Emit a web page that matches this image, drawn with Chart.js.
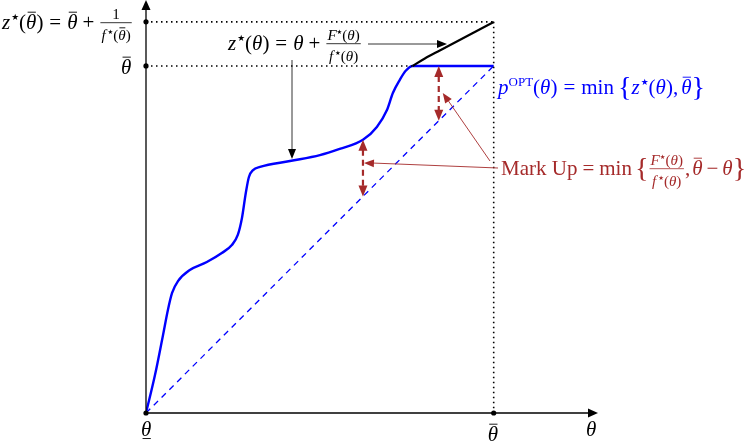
<!DOCTYPE html>
<html>
<head>
<meta charset="utf-8">
<script src="https://cdn.jsdelivr.net/npm/chart.js@4.4.1/dist/chart.umd.min.js"></script>
<style>
  html, body { margin: 0; padding: 0; background: #fff; }
  #wrap { width: 747px; height: 443px; }
</style>
</head>
<body>
<div id="wrap"><canvas id="chart"></canvas></div>
<script>
// theta axis in units where theta_bar = 1
const thetaBar = 1;
const zStarBar = 1.127;

// p^OPT(theta) curve
const blueX = [0, 0.026, 0.049, 0.063, 0.075, 0.092, 0.126, 0.175, 0.218, 0.247, 0.264, 0.276, 0.287, 0.296, 0.308, 0.328, 0.414, 0.5, 0.557, 0.624, 0.664, 0.693, 0.710, 0.730, 0.747, 0.767, 1.0];
const blueY = [0, 0.110, 0.225, 0.297, 0.346, 0.380, 0.412, 0.435, 0.461, 0.484, 0.513, 0.562, 0.634, 0.680, 0.700, 0.709, 0.726, 0.743, 0.761, 0.787, 0.824, 0.873, 0.922, 0.960, 0.986, 1.0, 1.0];
// z*(theta) beyond the cap
const blackX = [0.767, 0.802, 0.845, 1.0];
const blackY = [1.0, 1.0216, 1.0447, 1.1268];
// mark-up arrows at these thetas
const markX = [0.624, 0.842];
const markTop = [0.787, 1.0];

const toPts = (xs, ys) => xs.map((x, i) => ({ x, y: ys[i] }));

const serif = '"Liberation Serif", "DejaVu Serif", serif';

function mathRun(ctx, items, x, y, size, color, draw) {
  let cx = x;
  items.forEach(it => {
    if (it.sp) { cx += it.sp; return; }
    if (it.frac) {
      const s = size * 0.72;
      const wn = mathRun(ctx, it.frac[0], 0, 0, s, color, false);
      const wd = mathRun(ctx, it.frac[1], 0, 0, s, color, false);
      const w = Math.max(wn, wd) + 4;
      if (draw) {
        mathRun(ctx, it.frac[0], cx + (w - wn) / 2, y - size * 0.47, s, color, true);
        mathRun(ctx, it.frac[1], cx + (w - wd) / 2, y + size * 0.52, s, color, true);
        ctx.strokeStyle = color; ctx.lineWidth = 0.8;
        ctx.beginPath(); ctx.moveTo(cx + 1, y - size * 0.3); ctx.lineTo(cx + w - 1, y - size * 0.3); ctx.stroke();
      }
      cx += w;
      return;
    }
    let s = size, dy = 0;
    if (it.sup) { s = size * 0.62; dy = -size * 0.4; }
    if (it.star) { s = size * 0.42; dy = -size * 0.42; }
    if (it.big) { s = size * 1.35; dy = size * 0.1; }
    const fam = it.star ? '"DejaVu Sans", sans-serif' : serif;
    ctx.font = (it.i ? 'italic ' : '') + s + 'px ' + fam;
    const w = ctx.measureText(it.t).width;
    if (draw) {
      ctx.fillStyle = color;
      ctx.fillText(it.t, cx, y + dy);
      if (it.bar || it.under) {
        ctx.strokeStyle = color; ctx.lineWidth = 0.9;
        const by = it.bar ? y + dy - s * 0.8 : y + dy + s * 0.12;
        ctx.beginPath(); ctx.moveTo(cx + w * 0.15, by); ctx.lineTo(cx + w * 0.95, by); ctx.stroke();
      }
    }
    cx += w;
  });
  return cx - x;
}

function arrowHead(ctx, x0, y0, x1, y1, len, wid, color) {
  const a = Math.atan2(y1 - y0, x1 - x0);
  ctx.fillStyle = color;
  ctx.beginPath();
  ctx.moveTo(x1, y1);
  ctx.lineTo(x1 - len * Math.cos(a) + wid * Math.sin(a), y1 - len * Math.sin(a) - wid * Math.cos(a));
  ctx.lineTo(x1 - len * Math.cos(a) - wid * Math.sin(a), y1 - len * Math.sin(a) + wid * Math.cos(a));
  ctx.closePath();
  ctx.fill();
}

function line(ctx, x0, y0, x1, y1, color, lw, dash) {
  ctx.strokeStyle = color; ctx.lineWidth = lw;
  ctx.setLineDash(dash || []);
  ctx.beginPath(); ctx.moveTo(x0, y0); ctx.lineTo(x1, y1); ctx.stroke();
  ctx.setLineDash([]);
}

const th = { t: 'θ', i: true };
const thb = { t: 'θ', i: true, bar: true };
const star = { t: '★', star: true };
const zs = [{ t: 'z', i: true }, { sp: 1 }, star];
const fs = [{ t: 'f', i: true }, { sp: 2 }, star];
const Fs = [{ t: 'F', i: true }, star];
const par = (v) => [{ t: '(' }, v, { t: ')' }];

const overlay = {
  id: 'overlay',
  afterDatasetsDraw(chart) {
    const ctx = chart.ctx;
    const xs = chart.scales.x, ys = chart.scales.y;
    const px = v => xs.getPixelForValue(v), py = v => ys.getPixelForValue(v);
    const x0 = px(0), y0 = py(0), xb = px(thetaBar), yb = py(thetaBar), yz = py(zStarBar);
    ctx.save();
    // axes
    line(ctx, x0, y0, xs.right - 8, y0, '#000', 1.3);
    arrowHead(ctx, x0, y0, xs.right, y0, 10, 4.5, '#000');
    line(ctx, x0, y0, x0, ys.top + 8, '#000', 1.3);
    arrowHead(ctx, x0, y0, x0, ys.top, 10, 4.5, '#000');
    // dots
    [[x0, y0], [xb, y0], [x0, yb], [x0, yz]].forEach(([a, b]) => {
      ctx.fillStyle = '#000'; ctx.beginPath(); ctx.arc(a, b, 2.6, 0, Math.PI * 2); ctx.fill();
    });
    // mark-up arrows
    const red = '#a52a2a';
    markX.forEach((m, i) => {
      const x = px(m), yt = py(markTop[i]), yd = py(m);
      line(ctx, x, yt + 10, x, yd - 10, red, 2.2, [6, 4]);
      arrowHead(ctx, x, yd, x, yt, 11, 4.5, red);
      arrowHead(ctx, x, yt, x, yd, 11, 4.5, red);
    });
    // pointers from the mark-up label
    const lx = 498, lyA = 168, lyB = 161;
    const tA = [px(markX[0]) + 1, 163], tB = [px(markX[1]) + 4, 93];
    line(ctx, lx, lyA, tA[0] + 8, tA[1], red, 0.9);
    arrowHead(ctx, lx, lyA, tA[0], tA[1], 10, 4, red);
    line(ctx, lx - 8, lyB, tB[0] + 5, tB[1] + 7, red, 0.9);
    arrowHead(ctx, lx - 8, lyB, tB[0], tB[1], 10, 4, red);
    // z* arrows
    line(ctx, 368, 44, 438, 44, '#000', 0.8);
    arrowHead(ctx, 368, 44, 447, 44, 10, 4, '#000');
    line(ctx, 292, 60, 292, 150, '#000', 0.8);
    arrowHead(ctx, 292, 60, 292, 159, 10, 4, '#000');

    // labels
    const S = 21;
    mathRun(ctx, [...zs, ...par(thb), { sp: 6 }, { t: '=' }, { sp: 6 }, thb, { sp: 5 }, { t: '+' }, { sp: 5 },
      { frac: [[{ t: '1' }], [...fs, ...par(thb)]] }], 2, 29, S, '#000', true);
    mathRun(ctx, [thb], x0 - 25, yb + 8, S, '#000', true);
    mathRun(ctx, [...zs, ...par(th), { sp: 6 }, { t: '=' }, { sp: 6 }, th, { sp: 5 }, { t: '+' }, { sp: 5 },
      { frac: [[...Fs, ...par(th)], [...fs, ...par(th)]] }], 228, 50, S, '#000', true);
    const blue = '#0000ff';
    mathRun(ctx, [{ t: 'p', i: true }, { t: 'OPT', sup: true }, ...par(th), { sp: 6 }, { t: '=' }, { sp: 6 },
      { t: 'min' }, { sp: 4 }, { t: '{', big: true }, ...zs, ...par(th), { t: ',' }, { sp: 3 }, thb, { t: '}', big: true }],
      498, 94, S, blue, true);
    mathRun(ctx, [{ t: 'Mark Up' }, { sp: 5 }, { t: '=' }, { sp: 5 }, { t: 'min' }, { sp: 3 }, { t: '{', big: true },
      { frac: [[...Fs, ...par(th)], [...fs, ...par(th)]] }, { t: ',' }, { sp: 2 }, thb, { sp: 4 }, { t: '−' }, { sp: 4 }, th,
      { t: '}', big: true }], 501, 175, S, red, true);
    mathRun(ctx, [{ t: 'θ', i: true, under: true }], x0 - 5, y0 + 23, S, '#000', true);
    mathRun(ctx, [thb], xb - 6, y0 + 28, S, '#000', true);
    mathRun(ctx, [th], 586, y0 + 23, S, '#000', true);
    ctx.restore();
  }
};

new Chart(document.getElementById('chart'), {
  type: 'scatter',
  data: {
    datasets: [
      { data: [{ x: 0, y: zStarBar }, { x: thetaBar, y: zStarBar }], showLine: true, borderColor: '#000', borderWidth: 1.6, borderDash: [1.5, 3.5], pointRadius: 0 },
      { data: [{ x: 0, y: thetaBar }, { x: blueX[blueX.length - 2], y: thetaBar }], showLine: true, borderColor: '#000', borderWidth: 1.6, borderDash: [1.5, 3.5], pointRadius: 0 },
      { data: [{ x: thetaBar, y: zStarBar }, { x: thetaBar, y: 0 }], showLine: true, borderColor: '#000', borderWidth: 1.6, borderDash: [1.5, 3.5], pointRadius: 0 },
      { data: [{ x: 0, y: 0 }, { x: thetaBar, y: thetaBar }], showLine: true, borderColor: '#0000ff', borderWidth: 1.3, borderDash: [6, 5], pointRadius: 0 },
      { data: toPts(blackX, blackY), showLine: true, borderColor: '#000', borderWidth: 2.2, cubicInterpolationMode: 'monotone', pointRadius: 0 },
      { data: toPts(blueX, blueY), showLine: true, borderColor: '#0000ff', borderWidth: 2.4, cubicInterpolationMode: 'monotone', pointRadius: 0 }
    ]
  },
  options: {
    responsive: true,
    maintainAspectRatio: false,
    animation: false,
    layout: { padding: { left: 146, right: 149, top: 0, bottom: 30 } },
    plugins: { legend: { display: false }, tooltip: { enabled: false } },
    scales: {
      x: { type: 'linear', min: 0, max: 1.3, display: false },
      y: { type: 'linear', min: 0, max: 1.19, display: false }
    }
  },
  plugins: [overlay]
});
</script>
</body>
</html>
